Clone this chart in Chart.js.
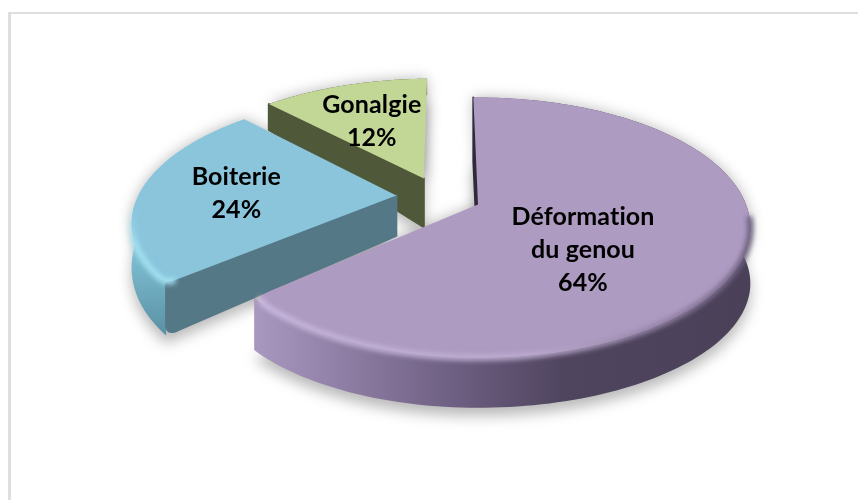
<!DOCTYPE html>
<html lang="fr">
<head>
<meta charset="utf-8">
<style>
html,body{margin:0;padding:0;background:#fff;}
#wrap{position:relative;width:858px;height:500px;overflow:hidden;}
</style>
<script src="https://cdn.jsdelivr.net/npm/chart.js@4/dist/chart.umd.min.js"></script>
</head>
<body>
<div id="wrap"><canvas id="c" width="858" height="500"></canvas></div>
<script>
const categories = ['Déformation du genou', 'Boiterie', 'Gonalgie'];
const percentValues = [64, 24, 12];
const labelLines = [['Déformation', 'du genou'], ['Boiterie'], ['Gonalgie']];

const topColors = ['#AE9BC2', '#8AC5DC', '#C2D696'];
const wallColors = ['#2F2A3C', '#557886', '#50583A'];

// perspective of the disc plane (camera tilted over a unit disc)
const view = {x0: 478, y0: 204.5, ax: 268, ay: 126, persp: 0.178};
const leftSqueeze = [0.975, 1, 1];
const radiusScale = [1, 0.975, 1];
const depthBase = [57, 41.7, 55.5];
const depthSlope = [-7, 18, 32];
const labelShift = [[105, 45.5], [-160, -2], [-52, -57]];

function addStops(g, stops) { stops.forEach(s => g.addColorStop(s[0], s[1])); return g; }

// replaces a sharp corner by a short quadratic curve, as a list of points
function rounded(prev, corner, next, size) {
  const toward = (a, b, s) => {
    const dx = b.x - a.x, dy = b.y - a.y, l = Math.hypot(dx, dy) || 1;
    return {x: a.x + dx / l * s, y: a.y + dy / l * s};
  };
  const p0 = toward(corner, prev, size), p2 = toward(corner, next, size), out = [];
  for (let k = 0; k <= 10; k++) {
    const t = k / 10, m = 1 - t;
    out.push({
      x: m * m * p0.x + 2 * m * t * corner.x + t * t * p2.x,
      y: m * m * p0.y + 2 * m * t * corner.y + t * t * p2.y
    });
  }
  return out;
}

const pie3d = {
  id: 'pie3d',
  beforeDraw(chart) {
    const c = chart.ctx;
    c.save();
    c.fillStyle = '#fff'; c.fillRect(0, 0, 858, 500);
    c.fillStyle = '#DEDEDE';
    c.fillRect(8, 12, 850, 2);
    c.fillRect(8, 12, 3, 488);
    c.restore();
  },
  beforeDatasetsDraw(chart) {
    const c = chart.ctx;
    const arcs = chart.getDatasetMeta(0).data;
    const R = arcs[0].outerRadius;
    const shift = el => {
      const m = (el.startAngle + el.endAngle) / 2, d = (el.options.offset / 4) / R;
      return [Math.cos(m) * d, Math.sin(m) * d];
    };
    const ref = shift(arcs[0]);
    const project = (u, v, i) => {
      const U = u - ref[0], V = v - ref[1], w = 1 - view.persp * V;
      const ax = U < 0 ? view.ax * leftSqueeze[i] : view.ax;
      return {x: view.x0 + ax * U / w, y: view.y0 + view.ay * V / w, V};
    };
    const geo = arcs.map((el, i) => {
      const s = shift(el), pts = [], n = 160, r = radiusScale[i];
      for (let k = 0; k <= n; k++) {
        const a = el.startAngle + (el.endAngle - el.startAngle) * k / n;
        pts.push(project(s[0] + r * Math.cos(a), s[1] + r * Math.sin(a), i));
      }
      const apex = project(s[0], s[1], i);
      const down = p => ({x: p.x, y: p.y + depthBase[i] + depthSlope[i] * p.V});
      return {apex, pts, low: pts.map(down), apexLow: down(apex)};
    });
    const poly = list => {
      c.beginPath();
      list.forEach((p, k) => k ? c.lineTo(p.x, p.y) : c.moveTo(p.x, p.y));
      c.closePath();
    };
    const last = a => a[a.length - 1];

    // soft ground shadow
    c.save();
    c.filter = 'blur(7px)';
    c.fillStyle = 'rgba(0,0,0,0.28)';
    geo.forEach(g => {
      poly([g.apexLow].concat(g.low).map(p => ({x: p.x, y: p.y + 8})));
      c.fill();
      poly([g.apex].concat(g.pts));
      c.fill();
    });
    c.restore();

    const rimFill = [
      addStops(c.createLinearGradient(255, 0, 750, 0), [[0, '#A897BE'], [0.1, '#9A89B0'], [0.25, '#84749A'], [0.45, '#66597A'], [0.62, '#50455F'], [1, '#4A4058']]),
      addStops(c.createLinearGradient(0, 215, 0, 338), [[0, '#8FD6E8'], [0.5, '#74B2C6'], [1, '#598EA2']]),
      '#50583A'
    ];
    const bevel = [
      addStops(c.createLinearGradient(255, 0, 750, 0), [[0, '#C9B8DF'], [0.55, '#BCABCE'], [0.85, '#8D7D9F'], [1, '#6A5E7C']]),
      addStops(c.createLinearGradient(0, 205, 0, 285), [[0, 'rgba(150,220,238,0)'], [0.5, '#A4E2F2'], [1, '#A4E2F2']]),
      '#C2D696'
    ];

    [2, 1, 0].forEach(i => {
      const g = geo[i], pts = g.pts, low = g.low, cut = i === 0 ? 3 : 6;
      // outer rim
      c.fillStyle = rimFill[i];
      poly(pts.concat(low.slice().reverse()));
      c.fill();
      // cut wall on the slice's leading edge
      c.fillStyle = c.strokeStyle = wallColors[i];
      c.lineWidth = 2;
      c.lineJoin = 'round';
      let wall = [g.apex, pts[0], low[0], g.apexLow];
      if (i === 1) wall = [g.apex, pts[0]].concat(rounded(pts[0], low[0], g.apexLow, 12), [g.apexLow]);
      poly(wall);
      c.fill(); c.stroke();
      // top face with a softened front corner
      c.fillStyle = topColors[i];
      let face;
      if (i === 0) {
        face = [g.apex].concat(pts.slice(0, pts.length - cut), rounded(pts[pts.length - cut - 1], last(pts), g.apex, 16));
      } else if (i === 1) {
        face = [g.apex].concat(rounded(g.apex, pts[0], pts[cut], 10), pts.slice(cut));
      } else {
        face = [g.apex].concat(pts);
      }
      poly(face);
      c.fill();
      // soft bevel along the front edge
      if (i < 2) {
        c.save();
        c.filter = 'blur(2.5px)';
        c.strokeStyle = bevel[i];
        c.lineWidth = 6;
        const part = i === 1 ? face.slice(1, 80) : face.slice(Math.floor(face.length * 0.4), face.length - 4);
        c.beginPath();
        part.forEach((p, k) => k ? c.lineTo(p.x, p.y) : c.moveTo(p.x, p.y));
        c.stroke();
        c.restore();
      }
    });

    // data labels
    c.save();
    c.fillStyle = '#000';
    c.font = 'bold 25px Lato, Carlito, sans-serif';
    c.letterSpacing = '0.1px';
    c.textAlign = 'center';
    c.textBaseline = 'middle';
    geo.forEach((g, i) => {
      const lines = labelLines[i].concat([percentValues[i] + '%']);
      const x = g.apex.x + labelShift[i][0], y = g.apex.y + labelShift[i][1];
      lines.forEach((t, k) => c.fillText(t, x, y + (k - (lines.length - 1) / 2) * 33));
    });
    c.restore();
    return false;
  }
};

new Chart(document.getElementById('c'), {
  type: 'pie',
  data: {
    labels: categories,
    datasets: [{data: percentValues, backgroundColor: topColors, borderWidth: 0, offset: 122, hoverOffset: 0}]
  },
  options: {
    responsive: false,
    animation: false,
    rotation: -1.2,
    events: [],
    plugins: {legend: {display: false}, tooltip: {enabled: false}, title: {display: false}}
  },
  plugins: [pie3d]
});
</script>
</body>
</html>
